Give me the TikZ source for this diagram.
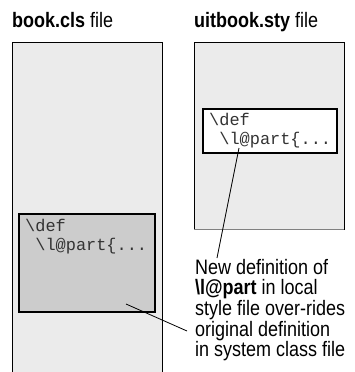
\documentclass[tikz,border=0pt]{standalone}
\usepackage{fontspec}
\setmainfont{Liberation Sans}[FakeStretch=0.86]
\newfontfamily\codefont{Liberation Mono}
\begin{document}
\begin{tikzpicture}[x=1bp,y=-1bp,
  column/.style={draw=black,line width=0.8bp,fill=black!8},
  codebox/.style={draw=black,line width=2bp},
  code/.style={font=\codefont\fontsize{17}{19.5}\selectfont,text=black!80,align=left,inner sep=0pt,anchor=north west},
  title/.style={font=\fontsize{21}{22}\selectfont,inner sep=0pt,anchor=base west},
  callout/.style={line width=0.8bp}]
\useasboundingbox (0,0) rectangle (355,372);
% left column
\draw[column] (12,380) -- (12,42) -- (162,42) -- (162,380);
\node[title] (t1) at (12,27) {\textbf{book.cls} file};
% right column
\draw[column] (194,42) rectangle (344,229);
\draw[black!50,line width=1bp] (194,229) -- (344,229);
\node[title] (t2) at (194,27) {\textbf{uitbook.sty} file};
% boxes
\draw[codebox,fill=black!20] (19,214) rectangle (155,312);
\node[code] (c1) at (25,219) {\textbackslash def\\\hspace*{0.6em}\textbackslash l@part\{...};
\draw[codebox,fill=white] (203,109) rectangle (337,153);
\node[code] (c2) at (209,113) {\textbackslash def\\\hspace*{0.6em}\textbackslash l@part\{...};
% callout text
\node[font=\fontsize{21}{20.7}\selectfont,align=left,inner sep=0pt,anchor=north west] (note) at (195,259)
  {New definition of\\\textbf{\textbackslash l@part} in local\\style file over-rides\\original definition\\in system class file};
\coordinate (p1) at (239,148);
\coordinate (q1) at (217,258);
\coordinate (p2) at (126,304);
\coordinate (q2) at (187,331);
\draw[callout] (p1) -- (q1);
\draw[callout] (p2) -- (q2);
\end{tikzpicture}
\end{document}
